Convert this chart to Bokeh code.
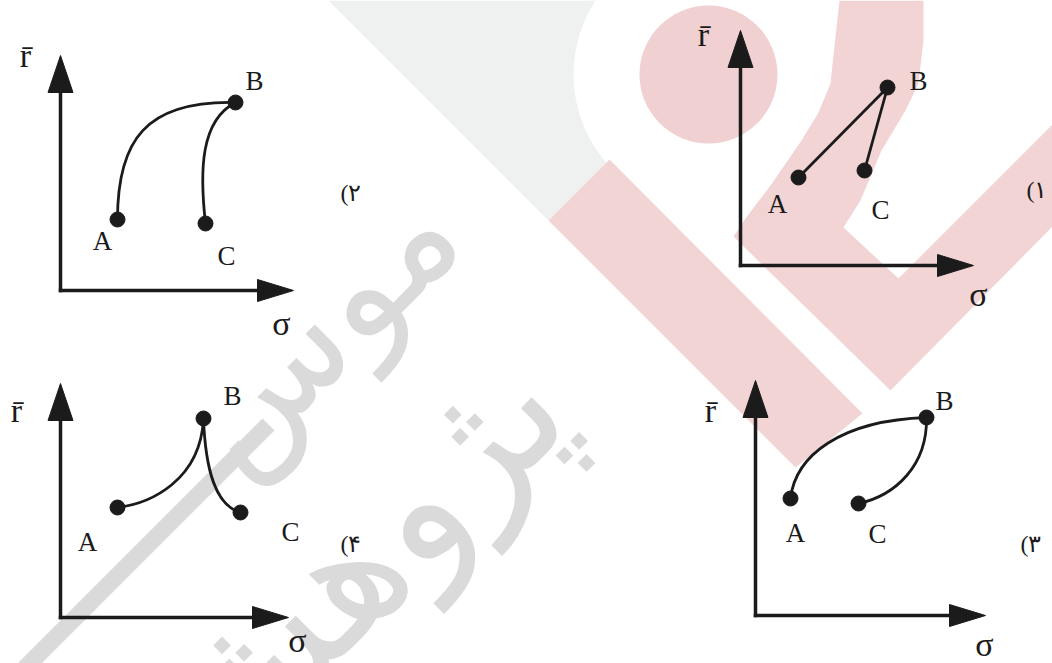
import numpy as np
from bokeh.plotting import figure
from bokeh.models import Range1d
from bokeh.core.properties import value
from bokeh.embed import file_html
from bokeh.resources import INLINE

IMG_W, IMG_H = 1052, 663

# ---------------- data (image pixel frame, y measured downward) ----------------
PANEL_NUMBERS = ["(۱", "(۲", "(۳", "(۴"]
ORIGIN_X = [740, 60, 755, 60]
ORIGIN_Y = [265, 290, 615, 617]
AXIS_LEN_X = [233, 233, 230, 228]
AXIS_LEN_Y = [235, 235, 235, 234]

# state points, local (sigma, r_bar) measured from each panel's origin
A_SIGMA = [58, 57, 35, 57]
A_R = [88, 71, 117, 110]
B_SIGMA = [147, 175, 171, 143]
B_R = [178, 188, 198, 199]
C_SIGMA = [124, 145, 103, 180]
C_R = [95, 67, 112, 105]

# path shapes (cubic control points, local), A->B and C->B
AB_C0 = [(None, None), (57, 150), (40, 160), (90, 114)]
AB_C1 = [(None, None), (85, 190), (85, 195), (140, 137)]
CB_C0 = [(None, None), (139, 120), (140, 120), (155, 112)]
CB_C1 = [(None, None), (140, 170), (172, 150), (145, 147)]

# label positions (image x, text baseline y)
LBL_A = [(777, 213), (102, 250), (795, 542), (87, 551)]
LBL_B = [(918, 90), (254, 90), (944, 410), (232, 405)]
LBL_C = [(880, 219), (226, 265), (877, 543), (290, 541)]
LBL_R = [(703, 47), (25, 68), (710, 423), (16, 423)]
LBL_S = [(978, 307), (281, 336), (984, 657), (297, 653)]
LBL_N = [(1026, 198), (340, 201), (1020, 552), (340, 552)]

# watermark shapes
GREY_X = [328, 600, 620, 609, 548]
GREY_Y = [0, 0, 150, 159, 220]
CIRCLE = (708, 74)
CIRCLE_R = 69
HALO_R = 135
BAND_X = [548, 609, 862, 795]
BAND_Y = [220, 159, 413, 467]
V_X = [839, 834, 830, 818, 801, 770, 745, 733, 890, 1052, 1052, 898, 843, 860, 881, 905, 918, 923, 923]
V_Y = [0, 45, 83, 112, 140, 185, 218, 236, 390, 226, 124, 278, 227, 200, 150, 110, 83, 40, 0]
WM_WORDS = ["موس", "پژوهش"]
WM_CENTER = [(316, 326), (348, 567)]
WM_SIZE = ["145px", "170px"]
WM_STRIPE_X = [268, -20]
WM_STRIPE_Y = [424, 712]

INK = "#1b1b1b"
PINK = "#f3d4d4"
GREY = "#eff0f0"
WM_GREY = "#dadada"
BASELINE_FIX = 0.37   # em fraction: lifts glyphs onto the measured baselines


def Y(y):
    return IMG_H - np.asarray(y, dtype=float)


p = figure(width=IMG_W, height=IMG_H, x_range=Range1d(0, IMG_W), y_range=Range1d(0, IMG_H),
           output_backend="svg", toolbar_location=None, min_border=0,
           x_axis_type=None, y_axis_type=None)
p.grid.visible = False
p.outline_line_color = None
p.background_fill_color = "white"
p.border_fill_color = "white"

# ---- watermark background ----
p.patch(GREY_X, Y(GREY_Y), fill_color=GREY, line_color=None)
p.scatter([CIRCLE[0]], Y([CIRCLE[1]]), size=2 * HALO_R, fill_color="white", line_color=None)
p.scatter([CIRCLE[0]], Y([CIRCLE[1]]), size=2 * CIRCLE_R, fill_color="#f0d0d0", line_color=None)
p.patch(BAND_X, Y(BAND_Y), fill_color=PINK, line_color=None)
p.patch(V_X, Y(V_Y), fill_color=PINK, line_color=None)
p.line(WM_STRIPE_X, Y(WM_STRIPE_Y), line_color=WM_GREY, line_width=17)
for w, c, s in zip(WM_WORDS, WM_CENTER, WM_SIZE):
    p.text([c[0]], Y([c[1]]), text=[w], angle=np.pi / 4,
           text_font=value("DejaVu Sans"), text_font_size=s,
           text_color=WM_GREY, text_align="center", text_baseline="middle")

serif = value("Liberation Serif")


def label(xs, ys, texts, size, align="center"):
    ys = Y(ys) + BASELINE_FIX * size
    p.text(xs, ys, text=texts, text_font=serif, text_font_size=f"{size}px",
           text_color=INK, text_align=align, text_baseline="alphabetic")


for i in range(4):
    ox = ORIGIN_X[i]
    oy = IMG_H - ORIGIN_Y[i]
    lx, ly = AXIS_LEN_X[i], AXIS_LEN_Y[i]
    # axes with arrow heads
    p.segment(x0=[ox, ox], y0=[oy, oy], x1=[ox + lx - 30, ox], y1=[oy, oy + ly - 30],
              line_color=INK, line_width=3.5, line_cap="square")
    p.patches([[ox + lx, ox + lx - 36, ox + lx - 36], [ox, ox - 12.5, ox + 12.5]],
              [[oy, oy + 11, oy - 11], [oy + ly, oy + ly - 37, oy + ly - 37]],
              fill_color=INK, line_color=INK)
    ax, ay = ox + A_SIGMA[i], oy + A_R[i]
    bx, by = ox + B_SIGMA[i], oy + B_R[i]
    cx, cy = ox + C_SIGMA[i], oy + C_R[i]
    if AB_C0[i][0] is None:
        p.segment(x0=[ax, cx], y0=[ay, cy], x1=[bx, bx], y1=[by, by], line_color=INK, line_width=2.8)
    else:
        p.bezier(x0=[ax, cx], y0=[ay, cy], x1=[bx, bx], y1=[by, by],
                 cx0=[ox + AB_C0[i][0], ox + CB_C0[i][0]], cy0=[oy + AB_C0[i][1], oy + CB_C0[i][1]],
                 cx1=[ox + AB_C1[i][0], ox + CB_C1[i][0]], cy1=[oy + AB_C1[i][1], oy + CB_C1[i][1]],
                 line_color=INK, line_width=2.8)
    p.scatter([ax, bx, cx], [ay, by, cy], size=15, fill_color=INK, line_color=INK)

    label([LBL_A[i][0], LBL_B[i][0], LBL_C[i][0]], [LBL_A[i][1], LBL_B[i][1], LBL_C[i][1]],
          ["A", "B", "C"], 27)
    label([LBL_R[i][0]], [LBL_R[i][1]], ["r\u0304"], 34)
    label([LBL_S[i][0]], [LBL_S[i][1]], ["σ"], 34)
    label([LBL_N[i][0]], [LBL_N[i][1]], [PANEL_NUMBERS[i]], 24, align="left")

open("out.html", "w").write(file_html(p, INLINE))
